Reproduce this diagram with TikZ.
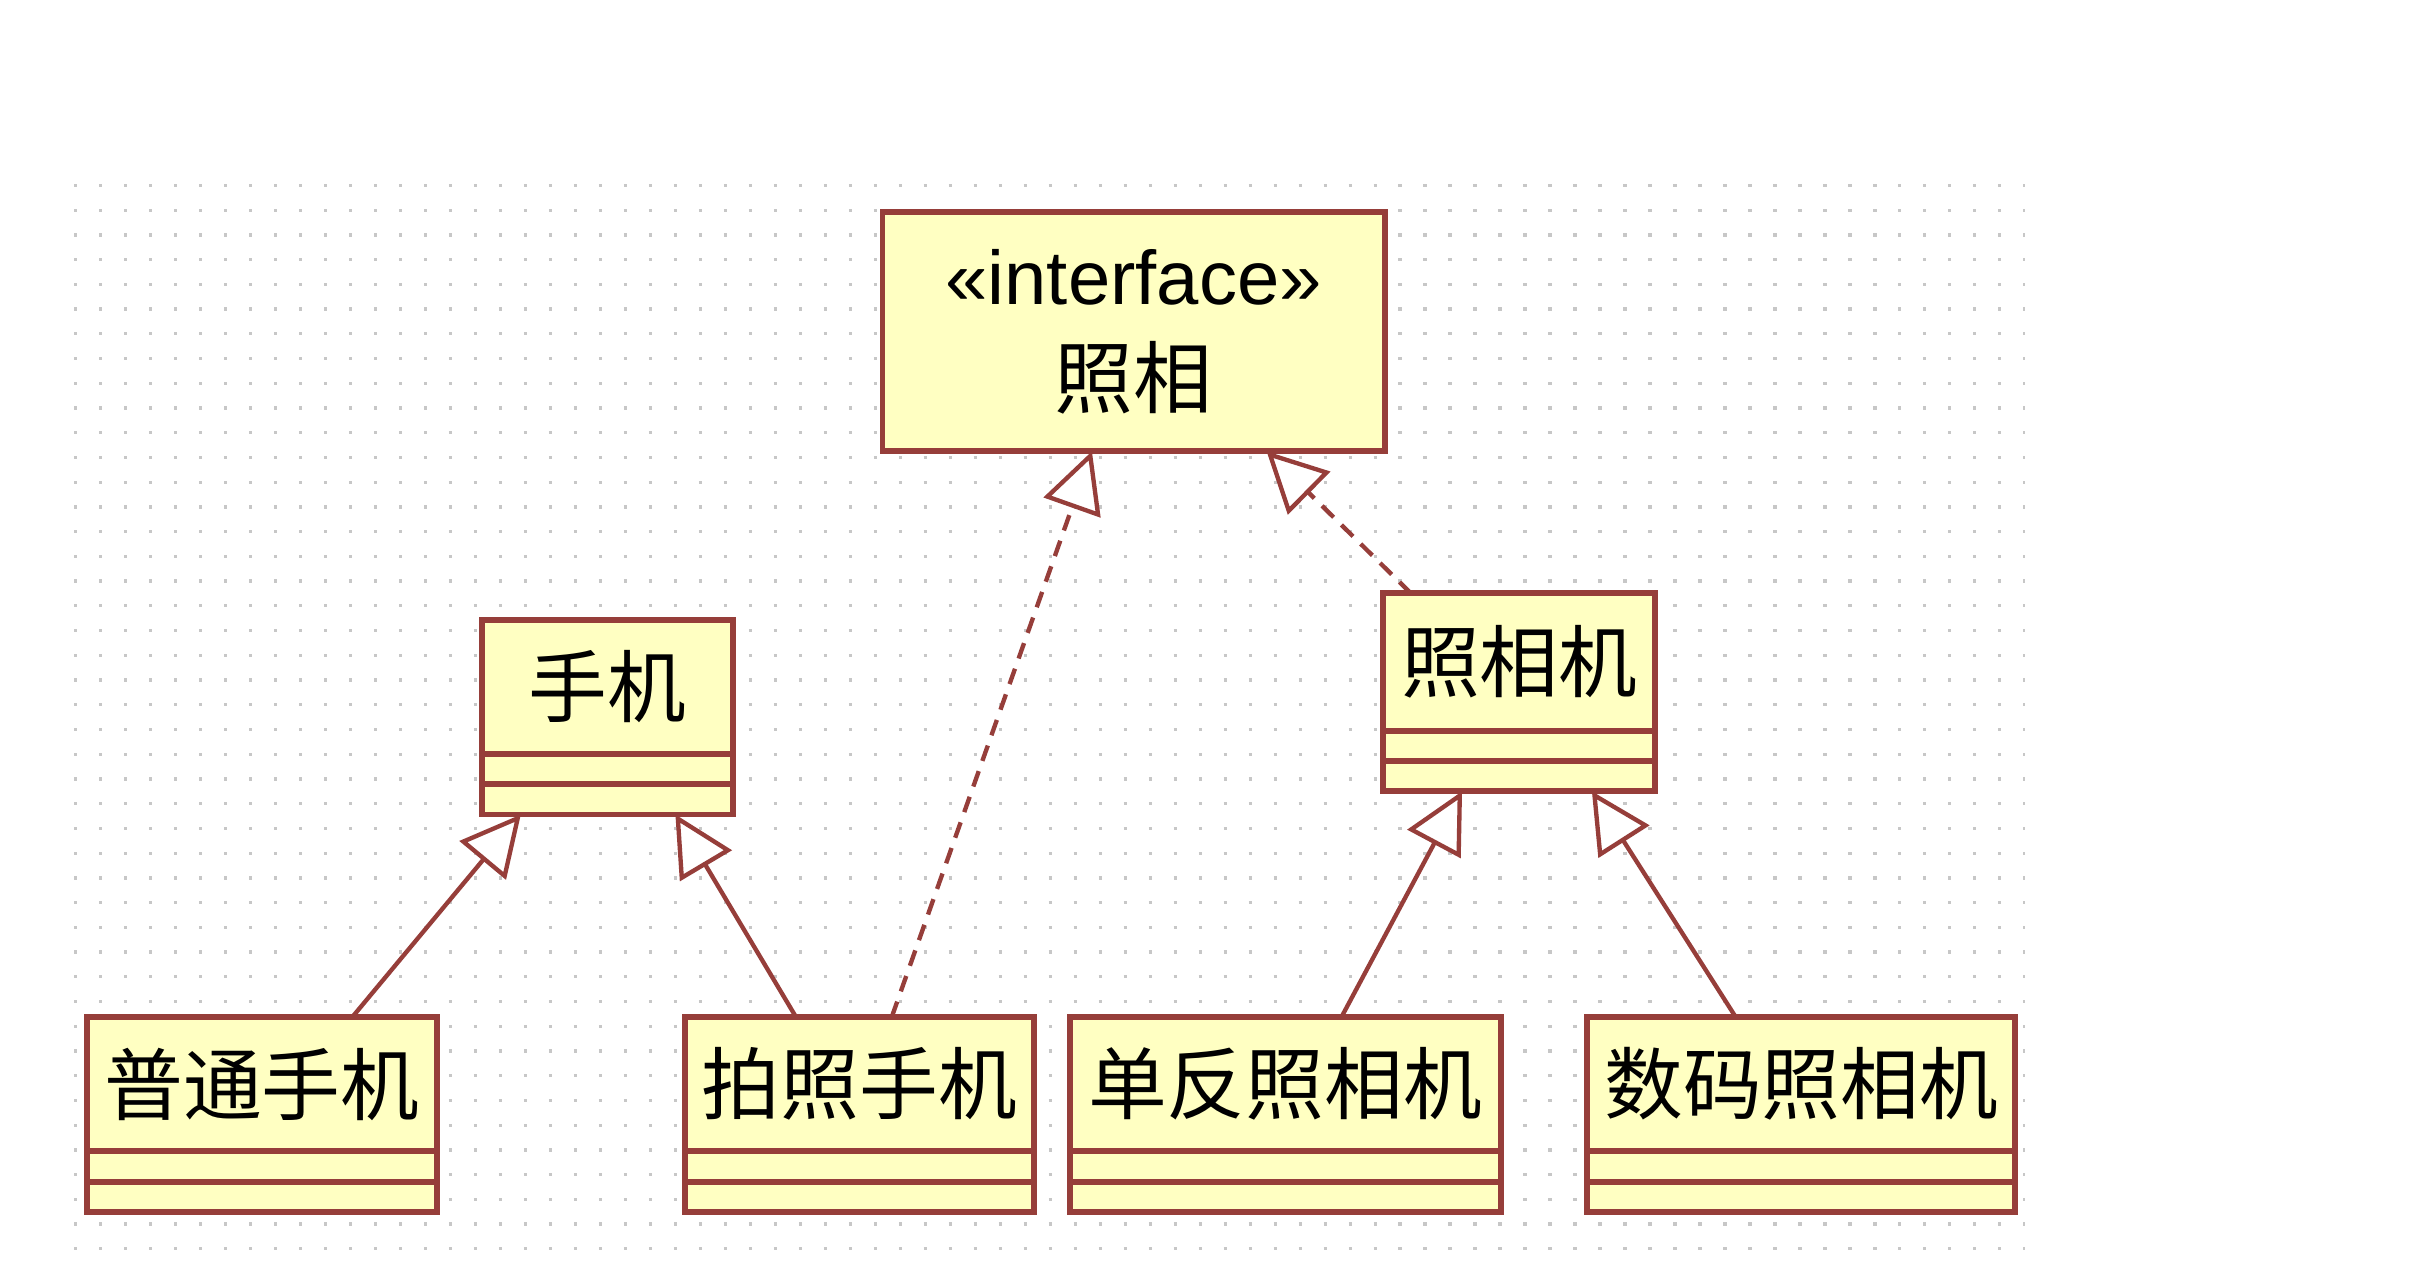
\documentclass[tikz,border=0pt]{standalone}
\usepackage{fontspec}
\setmainfont{Liberation Sans}
\newfontfamily\cjk{Noto Sans CJK SC}
\usetikzlibrary{positioning,arrows.meta}
\definecolor{umlfill}{RGB}{255,255,194}
\definecolor{umlline}{RGB}{150,62,58}
\tikzstyle{classname}=[draw=umlline, fill=umlfill, line width=1.1pt, inner sep=0pt, outer sep=0pt, font=\cjk\fontsize{14.5}{17}\selectfont]
\tikzstyle{classpart}=[classname, minimum height=0.195cm]
\tikzstyle{inherit}=[-{Triangle[open,fill=white,length=11pt,width=11pt]}, umlline, line width=0.8pt]
\tikzstyle{realize}=[inherit, dash pattern=on 3pt off 2pt]

% one class box: name, width, name height, position of top left corner, text
\newcommand{\umlbox}[5]{%
  \node[classname, anchor=north west, minimum width=#2, minimum height=#3] (#1) at (#4) {#5};
  \node[classpart, anchor=north, minimum width=#2] (#1a) at (#1.south) {};
  \node[classpart, anchor=north, minimum width=#2] (#1o) at (#1a.south) {};
}

\begin{document}
\begin{tikzpicture}
\useasboundingbox (0,0) rectangle (15.6,8.28);

% dotted grid
\foreach \r in {0,...,43}{
  \draw[black!22, line width=0.6pt, dash pattern=on 0.6pt off 4.0pt] (0.48,{7.08-0.16*\r}) -- (13.10,{7.08-0.16*\r});
}

% interface
\node[classname, anchor=north west, minimum width=3.25cm, minimum height=1.55cm, align=center, font=\fontsize{14}{19}\selectfont] (photo) at (5.71,6.91) {\textless\textless interface\textgreater\textgreater\\{\cjk\fontsize{14.5}{17}\selectfont 照相}};

\umlbox{phone}{1.62cm}{0.87cm}{3.12,4.27}{手机}
\umlbox{camera}{1.76cm}{0.89cm}{8.95,4.44}{照相机}
\umlbox{plain}{2.27cm}{0.87cm}{0.56,1.70}{普通手机}
\umlbox{camphone}{2.26cm}{0.87cm}{4.43,1.70}{拍照手机}
\umlbox{slr}{2.79cm}{0.87cm}{6.92,1.70}{单反照相机}
\umlbox{digital}{2.77cm}{0.87cm}{10.27,1.70}{数码照相机}

\draw[inherit] ([xshift=1.72cm]plain.north west) -- ([xshift=-0.56cm]phoneo.south);
\draw[inherit] ([xshift=0.72cm]camphone.north west) -- ([xshift=0.44cm]phoneo.south);
\draw[realize] ([xshift=1.34cm]camphone.north west) -- ([xshift=-0.27cm]photo.south);
\draw[realize] ([xshift=0.18cm]camera.north west) -- ([xshift=0.86cm]photo.south);
\draw[inherit] ([xshift=1.76cm]slr.north west) -- ([xshift=-0.37cm]camerao.south);
\draw[inherit] ([xshift=0.96cm]digital.north west) -- ([xshift=0.47cm]camerao.south);
\end{tikzpicture}
\end{document}
